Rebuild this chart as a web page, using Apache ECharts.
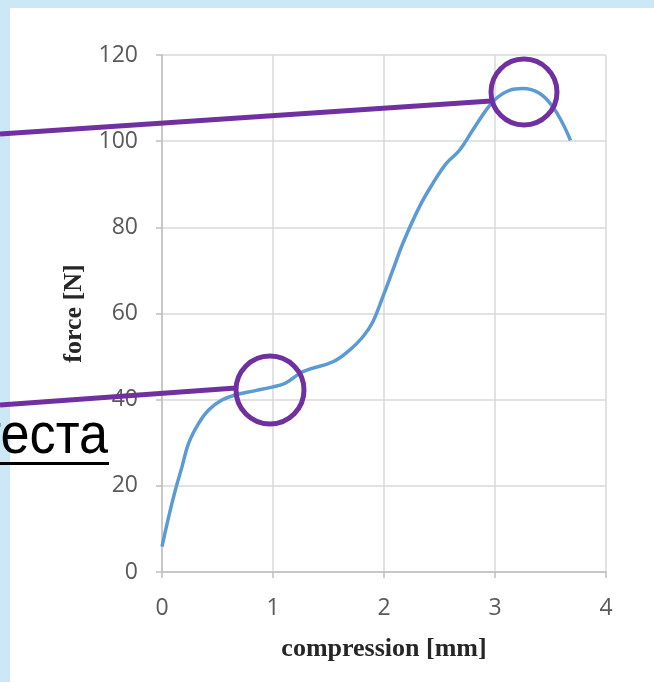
<!DOCTYPE html>
<html>
<head>
<meta charset="utf-8">
<script src="https://cdn.jsdelivr.net/npm/echarts@6/dist/echarts.min.js"></script>
<style>
html,body{margin:0;padding:0;background:#fff;}
#chart{width:654px;height:682px;}
</style>
</head>
<body>
<div id="chart"></div>
<script>
// compression [mm]
const compression = [0, 0.06, 0.12, 0.18, 0.24, 0.33, 0.42, 0.54, 0.66, 0.84, 0.99, 1.11, 1.27, 1.54, 1.69, 1.81, 1.9, 1.99, 2.08, 2.17, 2.32, 2.44, 2.56, 2.68, 2.8, 2.92, 3.01, 3.13, 3.25, 3.4, 3.52, 3.61, 3.68];
// force [N]
const force = [5.9, 12.8, 19, 24.4, 29.9, 34.5, 37.6, 39.9, 41.1, 42.1, 42.9, 43.8, 46.5, 48.8, 51.5, 54.6, 58.1, 63.9, 70.1, 76.3, 84.8, 90.2, 94.8, 97.9, 102.6, 107.2, 109.9, 111.8, 112.2, 111.1, 108, 104.1, 100.2];
const xTicks = [0, 1, 2, 3, 4];
const yTicks = [0, 20, 40, 60, 80, 100, 120];
const xName = 'compression [mm]';
const yName = 'force [N]';
const noteText = 'теста';

const chart = echarts.init(document.getElementById('chart'), null, {renderer: 'canvas'});
const purple = '#7030a0';
const axisGrey = '#bfbfbf';
const gridGrey = '#d9d9d9';
const labelFont = '"Open Sans", "Noto Sans", sans-serif';
const nameStyle = {fontFamily: '"Liberation Serif", serif', fontWeight: 'bold', fontSize: 26, color: '#262626'};

chart.setOption({
  animation: false,
  backgroundColor: '#ffffff',
  grid: {left: 162, right: 48, top: 55, bottom: 110, containLabel: false},
  xAxis: {
    type: 'value', min: xTicks[0], max: xTicks[xTicks.length - 1], interval: 1,
    name: xName, nameLocation: 'middle', nameGap: 64,
    nameTextStyle: nameStyle,
    axisLine: {show: true, lineStyle: {color: axisGrey, width: 1.5}},
    axisTick: {show: true, length: 6, lineStyle: {color: axisGrey, width: 1.5}},
    axisLabel: {margin: 25, fontFamily: labelFont, fontSize: 23, color: '#595959'},
    splitLine: {show: true, lineStyle: {color: gridGrey, width: 1.5}}
  },
  yAxis: {
    type: 'value', min: yTicks[0], max: yTicks[yTicks.length - 1], interval: 20,
    name: yName, nameLocation: 'middle', nameGap: 72, nameRotate: 90,
    nameTextStyle: nameStyle,
    axisLine: {show: true, lineStyle: {color: axisGrey, width: 1.5}},
    axisTick: {show: true, length: 6, lineStyle: {color: axisGrey, width: 1.5}},
    axisLabel: {margin: 24, fontFamily: labelFont, fontSize: 23, color: '#595959'},
    splitLine: {show: true, lineStyle: {color: gridGrey, width: 1.5}}
  },
  series: [{
    type: 'line',
    data: compression.map((c, i) => [c, force[i]]),
    smooth: 0.4,
    showSymbol: false,
    lineStyle: {color: '#5b9bd5', width: 3.5},
    z: 3
  }],
  graphic: [
    {type: 'rect', shape: {x: 0, y: 0, width: 654, height: 8}, style: {fill: '#cce8f6'}, z: 1, silent: true},
    {type: 'rect', shape: {x: 0, y: 0, width: 10, height: 682}, style: {fill: '#cce8f6'}, z: 1, silent: true},
    {type: 'text', x: 108, y: 408, scaleX: 0.9, style: {text: noteText, fill: '#000', align: 'right', verticalAlign: 'top', font: '58px "Liberation Sans", sans-serif'}, z: 20, silent: true},
    {type: 'rect', shape: {x: 0, y: 462, width: 109, height: 3}, style: {fill: '#000'}, z: 20, silent: true},
    {type: 'line', shape: {x1: 0, y1: 134, x2: 491, y2: 101}, style: {stroke: purple, lineWidth: 5}, z: 30, silent: true},
    {type: 'circle', shape: {cx: 524, cy: 92, r: 33}, style: {stroke: purple, lineWidth: 5, fill: null}, z: 30, silent: true},
    {type: 'line', shape: {x1: 0, y1: 405, x2: 236, y2: 388}, style: {stroke: purple, lineWidth: 5}, z: 30, silent: true},
    {type: 'circle', shape: {cx: 270, cy: 390, r: 34}, style: {stroke: purple, lineWidth: 5, fill: null}, z: 30, silent: true}
  ]
});
</script>
</body>
</html>
